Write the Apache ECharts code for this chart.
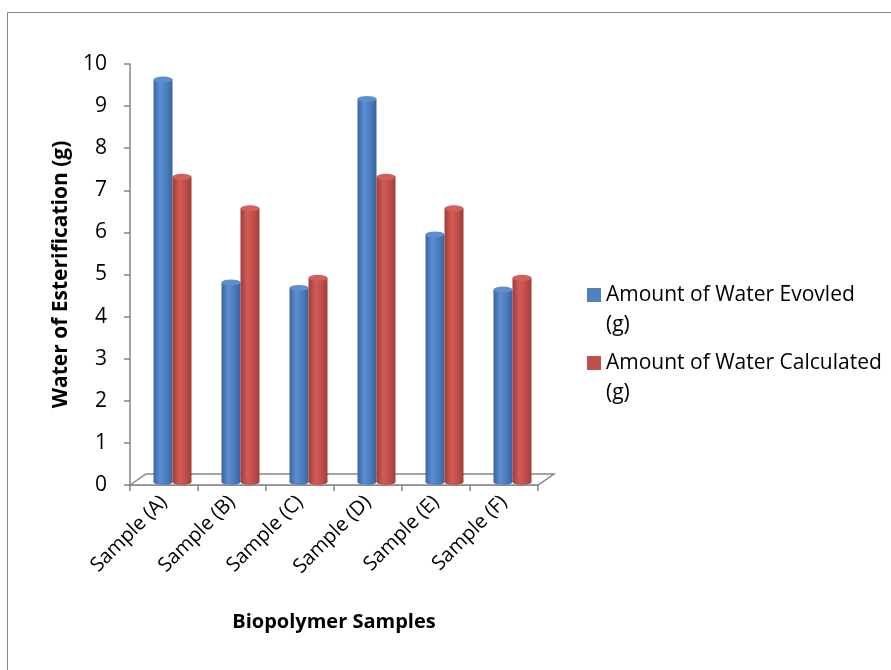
<!DOCTYPE html>
<html><head><meta charset="utf-8">
<script src="https://cdn.jsdelivr.net/npm/echarts@6/dist/echarts.min.js"></script>
<style>html,body{margin:0;padding:0;background:#fff}#c{width:891px;height:670px}</style>
</head><body><div id="c"></div>
<script>
var categories = ['Sample (A)', 'Sample (B)', 'Sample (C)', 'Sample (D)', 'Sample (E)', 'Sample (F)'];
var evolved = [9.56, 4.74, 4.61, 9.10, 5.88, 4.57];
var calculated = [7.25, 6.50, 4.85, 7.25, 6.50, 4.85];
var seriesNames = ['Amount of Water Evovled (g)', 'Amount of Water Calculated (g)'];
var yTicks = [0, 1, 2, 3, 4, 5, 6, 7, 8, 9, 10];

var FONT = 'Open Sans';
var blue = '#4F81BD', red = '#C0504D';
function cyl(dark, light, mid) {
  return new echarts.graphic.LinearGradient(0, 0, 1, 0, [
    {offset: 0, color: dark}, {offset: 0.35, color: light}, {offset: 0.7, color: mid}, {offset: 1, color: dark}
  ]);
}
var blueFill = cyl('#3A659C', '#5B8FD3', '#4A7BBD');
var redFill = cyl('#9E3C39', '#D25A56', '#C04E4A');
var BW = 19;

var chart = echarts.init(document.getElementById('c'), null, {renderer: 'canvas'});
var option = {
  backgroundColor: '#fff',
  animation: false,
  textStyle: {fontFamily: FONT},
  grid: [
    {left: 130, right: 353, top: 64, bottom: 185, containLabel: false},
    {left: 138.5, right: 344.5, top: 61, bottom: 188, containLabel: false}
  ],
  legend: {
    orient: 'vertical', left: 587, top: 250, padding: 0,
    itemWidth: 14, itemHeight: 14, itemGap: -22,
    icon: 'rect',
    data: [{name: seriesNames[0], itemStyle: {color: blue}}, {name: seriesNames[1], itemStyle: {color: red}}],
    formatter: function (n) { return '\n' + n.replace(' (g)', '\n(g)'); },
    textStyle: {fontFamily: FONT, fontSize: 21, color: '#000', lineHeight: 30}
  },
  xAxis: [
    {type: 'category', gridIndex: 0, data: categories,
      axisLine: {lineStyle: {color: '#868686', width: 1.5}},
      axisTick: {show: true, length: 6, lineStyle: {color: '#868686', width: 1.5}},
      axisLabel: {rotate: 45, fontSize: 20, color: '#000', fontFamily: FONT, margin: 14},
      name: 'Biopolymer Samples', nameLocation: 'middle', nameGap: 127,
      nameTextStyle: {fontWeight: 'bold', fontSize: 20, color: '#000', fontFamily: FONT}
    },
    {type: 'category', gridIndex: 1, data: categories, show: false}
  ],
  yAxis: [
    {type: 'value', gridIndex: 0, min: 0, max: 10, interval: 1,
      axisLine: {show: true, lineStyle: {color: '#868686', width: 1.5}},
      axisTick: {show: true, length: 6, lineStyle: {color: '#868686', width: 1.5}},
      splitLine: {show: false},
      axisLabel: {fontSize: 21, color: '#000', fontFamily: FONT, margin: 23,
        formatter: function (v) { return yTicks.indexOf(v) >= 0 ? String(v) : ''; }},
      name: 'Water of Esterification (g)', nameLocation: 'middle', nameGap: 58, nameRotate: 90,
      nameTextStyle: {fontWeight: 'bold', fontSize: 21, color: '#000', fontFamily: FONT}
    },
    {type: 'value', gridIndex: 1, min: 0, max: 10, interval: 1, show: false}
  ],
  series: [
    {name: seriesNames[0], type: 'bar', xAxisIndex: 1, yAxisIndex: 1, data: evolved, barWidth: BW, barGap: '0%',
      itemStyle: {color: blueFill}, z: 3},
    {name: seriesNames[1], type: 'bar', xAxisIndex: 1, yAxisIndex: 1, data: calculated, barWidth: BW, barGap: '0%',
      itemStyle: {color: redFill}, z: 3},
    {type: 'pictorialBar', xAxisIndex: 1, yAxisIndex: 1, data: evolved, symbol: 'circle', symbolSize: [BW, 6],
      symbolPosition: 'end', symbolOffset: [-BW / 2, '-50%'], itemStyle: {color: '#5E8FCC'}, z: 4, silent: true},
    {type: 'pictorialBar', xAxisIndex: 1, yAxisIndex: 1, data: calculated, symbol: 'circle', symbolSize: [BW, 6],
      symbolPosition: 'end', symbolOffset: [BW / 2, '-50%'], itemStyle: {color: '#CF605C'}, z: 5, silent: true},
    {type: 'pictorialBar', xAxisIndex: 1, yAxisIndex: 1, data: evolved, symbol: 'circle', symbolSize: [BW, 6],
      symbolPosition: 'start', symbolOffset: [-BW / 2, '50%'], itemStyle: {color: blueFill}, z: 2, silent: true},
    {type: 'pictorialBar', xAxisIndex: 1, yAxisIndex: 1, data: calculated, symbol: 'circle', symbolSize: [BW, 6],
      symbolPosition: 'start', symbolOffset: [BW / 2, '50%'], itemStyle: {color: redFill}, z: 2, silent: true}
  ]
};
chart.setOption(option);
var r = chart.getModel().getComponent('grid', 0).coordinateSystem.getRect();
var x0 = r.x, x1 = r.x + r.width, yb = r.y + r.height, dx = 16, dy = 11;
chart.setOption({
  graphic: [
    {type: 'rect', shape: {x: 7.5, y: 12.5, width: 1000, height: 1000}, style: {fill: null, stroke: '#868686', lineWidth: 1}, z: 0, silent: true},
    {type: 'polygon', shape: {points: [[x0, yb], [x0 + dx, yb - dy], [x1 + dx, yb - dy], [x1, yb]]},
      style: {fill: '#fff', stroke: '#868686', lineWidth: 1.5}, z: 1, silent: true}
  ]
});
</script></body></html>
